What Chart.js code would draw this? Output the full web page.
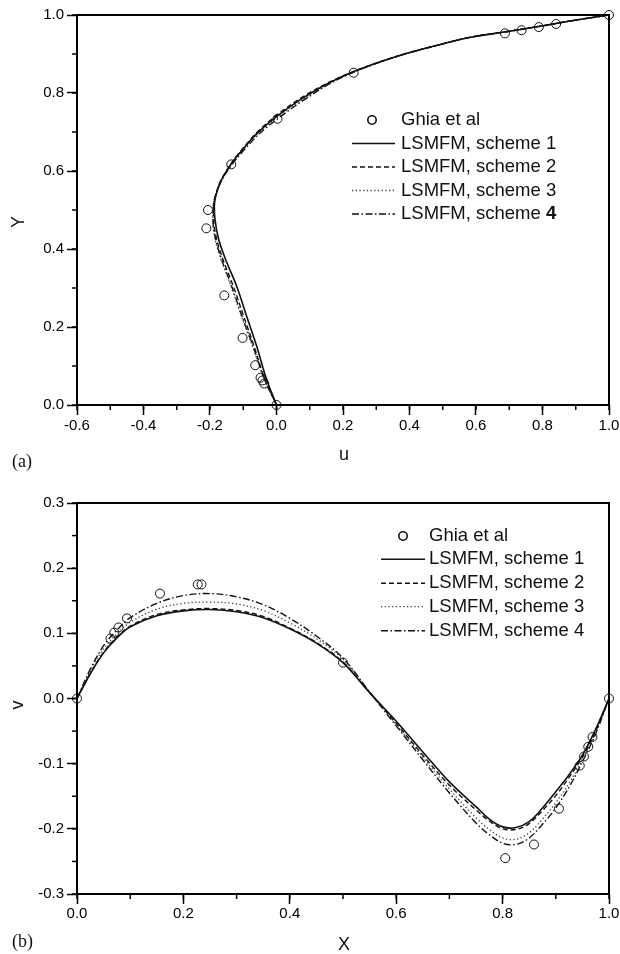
<!DOCTYPE html>
<html><head><meta charset="utf-8">
<script src="https://cdn.jsdelivr.net/npm/chart.js@4.4.1/dist/chart.umd.min.js"></script>
<style>html,body{margin:0;padding:0;background:#fff;}canvas{display:block;}</style>
</head><body>
<canvas id="ca" width="620" height="477"></canvas>
<canvas id="cb" width="620" height="477"></canvas>
<script>
// ---------- Panel (a): u along vertical centreline ----------
const ghiaU = [1.0, 0.841, 0.789, 0.737, 0.687, 0.232, 0.003, -0.136, -0.206, -0.211, -0.157, -0.102, -0.064, -0.048, -0.042, -0.037, 0.0];
const ghiaY = [1.0, 0.977, 0.969, 0.961, 0.953, 0.852, 0.734, 0.617, 0.500, 0.453, 0.281, 0.172, 0.102, 0.070, 0.063, 0.055, 0.0];
const profY = [0, 0.066, 0.152, 0.228, 0.305, 0.373, 0.425, 0.476, 0.51, 0.544, 0.578, 0.6, 0.62, 0.663, 0.697, 0.74, 0.783, 0.825, 0.855, 0.893, 0.921, 0.945, 0.957, 0.972, 0.986, 1];
const uScheme1 = [0, -0.03, -0.06, -0.09, -0.12, -0.153, -0.174, -0.185, -0.187, -0.18, -0.165, -0.15, -0.135, -0.094, -0.058, 0.001, 0.072, 0.156, 0.233, 0.358, 0.477, 0.596, 0.69, 0.798, 0.893, 1];
const uScheme2 = [0, -0.035, -0.068, -0.099, -0.13, -0.161, -0.18, -0.189, -0.189, -0.181, -0.166, -0.151, -0.136, -0.096, -0.061, -0.004, 0.066, 0.152, 0.231, 0.357, 0.477, 0.596, 0.69, 0.798, 0.893, 1];
const uScheme3 = [0, -0.037, -0.073, -0.106, -0.137, -0.167, -0.185, -0.192, -0.191, -0.182, -0.166, -0.15, -0.134, -0.092, -0.055, 0.006, 0.077, 0.158, 0.233, 0.358, 0.477, 0.596, 0.69, 0.798, 0.893, 1];
const uScheme4 = [0, -0.036, -0.071, -0.104, -0.135, -0.165, -0.183, -0.191, -0.19, -0.181, -0.164, -0.148, -0.131, -0.088, -0.05, 0.013, 0.084, 0.163, 0.236, 0.36, 0.478, 0.597, 0.69, 0.798, 0.893, 1];

// ---------- Panel (b): v along horizontal centreline ----------
const ghiaX = [1.0, 0.969, 0.961, 0.953, 0.945, 0.906, 0.859, 0.805, 0.500, 0.234, 0.227, 0.156, 0.094, 0.078, 0.070, 0.063, 0.0];
const ghiaV = [0.0, -0.059, -0.074, -0.089, -0.103, -0.169, -0.224, -0.245, 0.055, 0.175, 0.175, 0.161, 0.123, 0.109, 0.101, 0.092, 0.0];
const profX = [0, 0.025, 0.05, 0.075, 0.1, 0.15, 0.2, 0.25, 0.3, 0.35, 0.4, 0.45, 0.5, 0.55, 0.6, 0.65, 0.7, 0.75, 0.775, 0.8, 0.825, 0.85, 0.875, 0.9, 0.925, 0.95, 0.975, 1];
const vScheme1 = [0, 0.038, 0.07, 0.093, 0.11, 0.127, 0.1345, 0.1365, 0.133, 0.124, 0.107, 0.085, 0.055, 0.009, -0.035, -0.082, -0.128, -0.166, -0.185, -0.197, -0.198, -0.189, -0.168, -0.143, -0.117, -0.087, -0.047, 0];
const vScheme2 = [0, 0.038, 0.071, 0.094, 0.111, 0.129, 0.136, 0.138, 0.135, 0.126, 0.108, 0.086, 0.056, 0.009, -0.038, -0.087, -0.133, -0.171, -0.188, -0.2, -0.201, -0.192, -0.172, -0.149, -0.121, -0.09, -0.05, 0];
const vScheme3 = [0, 0.042, 0.076, 0.099, 0.117, 0.137, 0.146, 0.148, 0.145, 0.135, 0.116, 0.092, 0.06, 0.01, -0.04, -0.09, -0.139, -0.183, -0.201, -0.214, -0.216, -0.206, -0.185, -0.16, -0.13, -0.094, -0.052, 0];
const vScheme4 = [0, 0.045, 0.081, 0.105, 0.124, 0.146, 0.158, 0.161, 0.156, 0.144, 0.123, 0.096, 0.062, 0.01, -0.042, -0.094, -0.145, -0.191, -0.209, -0.222, -0.224, -0.214, -0.193, -0.168, -0.136, -0.097, -0.054, 0];

const legendLabels = ['Ghia et al', 'LSMFM, scheme 1', 'LSMFM, scheme 2', 'LSMFM, scheme 3', 'LSMFM, scheme 4'];

const SANS = '"Liberation Sans", Arial, Helvetica, sans-serif';
const SERIF = '"Liberation Serif", "Times New Roman", serif';
const lineStyles = [
  {dash: [], width: 1.6, color: '#111'},
  {dash: [5, 3], width: 1.4, color: '#111'},
  {dash: [1.3, 2.4], width: 1.3, color: '#444'},
  {dash: [7, 2.5, 1.5, 2.5], width: 1.4, color: '#111'}
];

function pts(xs, ys) { return xs.map((x, i) => ({x: x, y: ys[i]})); }
function fmt(v) { return Math.abs(v) < 1e-9 ? '0.0' : v.toFixed(1); }

function makeDatasets(lines, ghia, idxAxis, monotone) {
  const ds = lines.map((d, i) => ({
    label: legendLabels[i + 1], data: d, indexAxis: idxAxis, showLine: true, pointRadius: 0,
    borderColor: lineStyles[i].color, borderWidth: lineStyles[i].width,
    borderDash: lineStyles[i].dash, fill: false,
    cubicInterpolationMode: monotone ? 'monotone' : 'default', tension: monotone ? 0 : 0.35
  }));
  ds.push({label: legendLabels[0], data: ghia, showLine: false, pointRadius: 4.5,
    pointStyle: 'circle', borderColor: '#111', borderWidth: 1, backgroundColor: 'rgba(0,0,0,0)', clip: false});
  return ds;
}

const decorPlugin = {
  id: 'decor',
  afterDraw(chart, args, o) {
    const ctx = chart.ctx, ca = chart.chartArea;
    const sx = chart.scales.x, sy = chart.scales.y;
    ctx.save();
    ctx.strokeStyle = '#000'; ctx.lineWidth = 1.5;
    for (let v = o.xMin; v <= o.xMax + 1e-9; v += o.xMinor) {
      const p = sx.getPixelForValue(v);
      ctx.beginPath(); ctx.moveTo(p, ca.bottom); ctx.lineTo(p, ca.bottom + 5); ctx.stroke();
    }
    for (let v = o.yMin; v <= o.yMax + 1e-9; v += o.yMinor) {
      const p = sy.getPixelForValue(v);
      ctx.beginPath(); ctx.moveTo(ca.left - 5, p); ctx.lineTo(ca.left, p); ctx.stroke();
    }
    ctx.lineWidth = 2; ctx.strokeStyle = '#000';
    ctx.strokeRect(ca.left, ca.top, ca.right - ca.left, ca.bottom - ca.top);
    ctx.fillStyle = '#111';
    ctx.font = '18px ' + SANS;
    ctx.textAlign = 'center'; ctx.textBaseline = 'middle';
    ctx.fillText(o.xTitle, o.xTitlePos[0], o.xTitlePos[1]);
    ctx.save();
    ctx.translate(o.yTitlePos[0], o.yTitlePos[1]); ctx.rotate(-Math.PI / 2);
    ctx.fillText(o.yTitle, 0, 0);
    ctx.restore();
    ctx.font = '18px ' + SERIF; ctx.textAlign = 'left';
    ctx.fillText(o.panel, o.panelPos[0], o.panelPos[1]);
    const L = o.legend;
    ctx.font = '18.5px ' + SANS; ctx.textAlign = 'left'; ctx.textBaseline = 'middle';
    ctx.beginPath(); ctx.lineWidth = 1.6; ctx.strokeStyle = '#111';
    ctx.arc(L.marker, L.rows[0], 4.2, 0, Math.PI * 2); ctx.stroke();
    ctx.fillText(legendLabels[0], L.text, L.rows[0]);
    for (let i = 0; i < 4; i++) {
      const y = L.rows[i + 1];
      ctx.save();
      ctx.strokeStyle = lineStyles[i].color; ctx.lineWidth = lineStyles[i].width;
      ctx.setLineDash(lineStyles[i].dash);
      ctx.beginPath(); ctx.moveTo(L.x0, y); ctx.lineTo(L.x1, y); ctx.stroke();
      ctx.restore();
      const label = legendLabels[i + 1];
      if (i === 3 && L.boldLast) {
        const head = label.slice(0, -1);
        ctx.fillText(head, L.text, y);
        const w = ctx.measureText(head).width;
        ctx.font = 'bold 18.5px ' + SANS;
        ctx.fillText(label.slice(-1), L.text + w, y);
        ctx.font = '18.5px ' + SANS;
      } else {
        ctx.fillText(label, L.text, y);
      }
    }
    ctx.restore();
  }
};

function axisCfg(min, max, step, xAxis, fitSize, pad) {
  return {
    type: 'linear', min: min, max: max,
    ticks: {stepSize: step, padding: pad, color: '#000', font: {family: SANS, size: 15},
      callback: fmt, maxRotation: 0, autoSkip: false, includeBounds: true},
    grid: {drawOnChartArea: false, drawTicks: true, tickLength: 10, tickColor: '#000', tickWidth: 1.5},
    border: {display: false},
    afterFit: s => {
      if (xAxis) { s.height = fitSize; } else { s.width = fitSize; }
      s.paddingLeft = 0; s.paddingRight = 0; s.paddingTop = 0; s.paddingBottom = 0;
    }
  };
}

new Chart(document.getElementById('ca'), {
  type: 'line',
  data: {datasets: makeDatasets(
    [pts(uScheme1, profY), pts(uScheme2, profY), pts(uScheme3, profY), pts(uScheme4, profY)],
    pts(ghiaU, ghiaY), 'y', true)},
  options: {
    responsive: false, animation: false, devicePixelRatio: 1,
    layout: {padding: {top: 15, right: 11, left: 0, bottom: 0}},
    plugins: {legend: {display: false}, tooltip: {enabled: false},
      decor: {xMin: -0.6, xMax: 1.0, xMinor: 0.1, yMin: 0, yMax: 1.0, yMinor: 0.1,
        xTitle: 'u', xTitlePos: [344, 455], yTitle: 'Y', yTitlePos: [19, 222],
        panel: '(a)', panelPos: [12, 462],
        legend: {marker: 372, text: 401, x0: 352, x1: 395, rows: [120, 143.5, 167, 190.5, 214], boldLast: true}}},
    scales: {x: axisCfg(-0.6, 1.0, 0.2, true, 72, 2), y: axisCfg(0, 1.0, 0.2, false, 77, 3)}
  },
  plugins: [decorPlugin]
});

new Chart(document.getElementById('cb'), {
  type: 'line',
  data: {datasets: makeDatasets(
    [pts(profX, vScheme1), pts(profX, vScheme2), pts(profX, vScheme3), pts(profX, vScheme4)],
    pts(ghiaX, ghiaV), 'x', false)},
  options: {
    responsive: false, animation: false, devicePixelRatio: 1,
    layout: {padding: {top: 26, right: 11, left: 0, bottom: 0}},
    plugins: {legend: {display: false}, tooltip: {enabled: false},
      decor: {xMin: 0, xMax: 1.0, xMinor: 0.1, yMin: -0.3, yMax: 0.3, yMinor: 0.05,
        xTitle: 'X', xTitlePos: [344, 468], yTitle: 'v', yTitlePos: [18, 228],
        panel: '(b)', panelPos: [12, 465],
        legend: {marker: 403, text: 429, x0: 381, x1: 425, rows: [59, 82.3, 106.3, 129.7, 153.7], boldLast: false}}},
    scales: {x: axisCfg(0, 1.0, 0.2, true, 60, 1), y: axisCfg(-0.3, 0.3, 0.1, false, 77, 3)}
  },
  plugins: [decorPlugin]
});
</script>
</body></html>
